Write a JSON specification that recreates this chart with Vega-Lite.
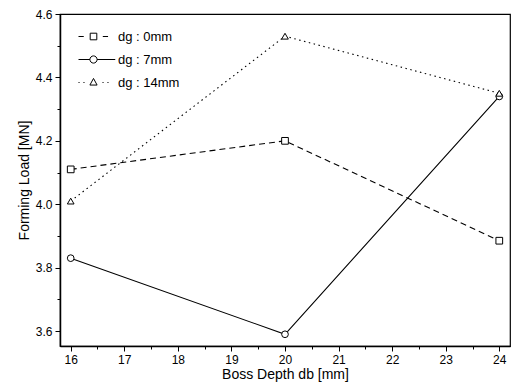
{
  "$schema": "https://vega.github.io/schema/vega-lite/v6.json",
  "autosize": "none",
  "width": 450,
  "height": 332,
  "padding": {"left": 60, "top": 14, "right": 17, "bottom": 44},
  "background": "white",
  "config": {
    "font": "Liberation Sans",
    "view": {"stroke": "black", "strokeWidth": 1.2},
    "axis": {"domainColor": "black", "tickColor": "black", "labelColor": "black", "titleColor": "black", "grid": false, "labelFont": "Liberation Sans", "titleFont": "Liberation Sans", "titleFontWeight": "normal", "domainWidth": 1.5}
  },
  "data": {"values": [
    {"depth": 16, "load": 4.11, "series": "dg : 0mm"},
    {"depth": 20, "load": 4.20, "series": "dg : 0mm"},
    {"depth": 24, "load": 3.885, "series": "dg : 0mm"},
    {"depth": 16, "load": 3.83, "series": "dg : 7mm"},
    {"depth": 20, "load": 3.59, "series": "dg : 7mm"},
    {"depth": 24, "load": 4.34, "series": "dg : 7mm"},
    {"depth": 16, "load": 4.01, "series": "dg : 14mm"},
    {"depth": 20, "load": 4.53, "series": "dg : 14mm"},
    {"depth": 24, "load": 4.35, "series": "dg : 14mm"}
  ]},
  "layer": [
    {
      "transform": [{"filter": "datum.series == 'dg : 0mm'"}],
      "mark": {"type": "line", "color": "black", "strokeWidth": 1.1, "strokeDash": [6, 4]},
      "encoding": {
        "x": {"field": "depth", "type": "quantitative", "scale": {"domain": [15.8, 24.2], "nice": false, "zero": false},
          "axis": {"values": [16, 17, 18, 19, 20, 21, 22, 23, 24], "title": "Boss Depth db [mm]", "titleFontSize": 14, "labelFontSize": 12, "tickSize": 5, "titlePadding": 2, "labelPadding": 3}},
        "y": {"field": "load", "type": "quantitative", "scale": {"domain": [3.553, 4.6], "nice": false, "zero": false},
          "axis": {"values": [3.6, 3.8, 4.0, 4.2, 4.4, 4.6], "format": ".1f", "title": "Forming Load [MN]", "titleFontSize": 14, "labelFontSize": 12, "tickSize": 5, "titlePadding": 4, "labelPadding": 3}}
      }
    },
    {
      "transform": [{"filter": "datum.series == 'dg : 7mm'"}],
      "mark": {"type": "line", "color": "black", "strokeWidth": 1.1},
      "encoding": {
        "x": {"field": "depth", "type": "quantitative", "axis": null},
        "y": {"field": "load", "type": "quantitative", "axis": null}
      }
    },
    {
      "transform": [{"filter": "datum.series == 'dg : 14mm'"}],
      "mark": {"type": "line", "color": "black", "strokeWidth": 1.1, "strokeDash": [1.5, 3.5]},
      "encoding": {
        "x": {"field": "depth", "type": "quantitative", "axis": null},
        "y": {"field": "load", "type": "quantitative", "axis": null}
      }
    },
    {
      "transform": [{"filter": "datum.series == 'dg : 0mm'"}],
      "mark": {"type": "point", "shape": "square", "filled": false, "fill": "white", "fillOpacity": 1, "stroke": "black", "size": 45, "strokeWidth": 1, "opacity": 1},
      "encoding": {
        "x": {"field": "depth", "type": "quantitative", "axis": {"values": [16.5, 17.5, 18.5, 19.5, 20.5, 21.5, 22.5, 23.5], "labels": false, "domain": false, "title": null, "tickSize": 3, "orient": "bottom"}},
        "y": {"field": "load", "type": "quantitative", "axis": {"values": [3.7, 3.9, 4.1, 4.3, 4.5], "labels": false, "domain": false, "title": null, "tickSize": 3, "orient": "left"}}
      }
    },
    {
      "transform": [{"filter": "datum.series == 'dg : 7mm'"}],
      "mark": {"type": "point", "shape": "circle", "filled": false, "fill": "white", "fillOpacity": 1, "stroke": "black", "size": 45, "strokeWidth": 1, "opacity": 1},
      "encoding": {
        "x": {"field": "depth", "type": "quantitative", "axis": null},
        "y": {"field": "load", "type": "quantitative", "axis": null}
      }
    },
    {
      "transform": [{"filter": "datum.series == 'dg : 14mm'"}],
      "mark": {"type": "point", "shape": "triangle-up", "filled": false, "fill": "white", "fillOpacity": 1, "stroke": "black", "size": 45, "strokeWidth": 1, "opacity": 1},
      "encoding": {
        "x": {"field": "depth", "type": "quantitative", "axis": null},
        "y": {"field": "load", "type": "quantitative", "axis": null}
      }
    },
    {
      "mark": {"type": "point", "filled": false, "stroke": "black", "strokeWidth": 1, "opacity": 0},
      "encoding": {
        "x": {"field": "depth", "type": "quantitative", "axis": null},
        "y": {"field": "load", "type": "quantitative", "axis": null},
        "shape": {"field": "series", "type": "nominal", "sort": ["dg : 0mm", "dg : 7mm", "dg : 14mm"],
          "scale": {"domain": ["dg : 0mm", "dg : 7mm", "dg : 14mm"], "range": [
            "M-1,0H-0.65M0.62,0H0.97M-0.22,-0.22H0.22V0.22H-0.22Z",
            "M-1,0H-0.24M0.24,0H1.45M0.24,0A0.24,0.24 0 1,1 -0.24,0A0.24,0.24 0 1,1 0.24,0Z",
            "M-1,0H-0.93M-0.67,0H-0.6M0.6,0H0.67M0.93,0H1M0,-0.27L0.24,0.17H-0.24Z"]},
          "legend": {"title": null, "orient": "none", "legendX": 18, "legendY": 7, "labelFontSize": 13, "symbolSize": 900, "rowPadding": -2, "labelColor": "black", "labelOffset": 9, "symbolOpacity": 1, "symbolStrokeColor": "black", "symbolFillColor": "white", "symbolStrokeWidth": 1}}
      }
    }
  ],
  "resolve": {"axis": {"x": "independent", "y": "independent"}}
}
